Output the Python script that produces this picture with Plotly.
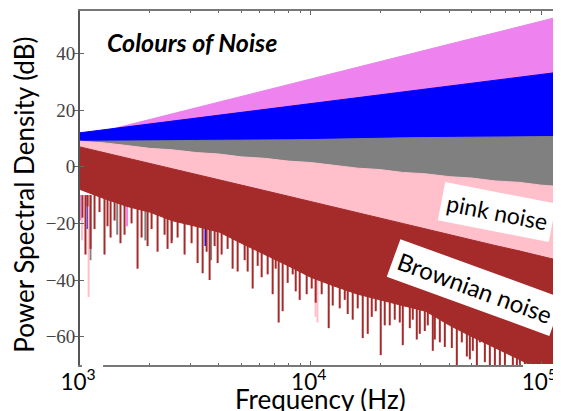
import plotly.graph_objects as go

# ---------------- data ----------------
# frequency sample points (Hz) for the band envelopes
freq = [1000, 1250, 1600, 2000, 2500, 3200, 4000, 5000, 6300, 8000, 10000,
        12500, 16000, 20000, 25000, 31500, 40000, 50000, 63000, 80000, 100000, 122000]

# upper envelopes (dB)
violet_top = [10.5, 12.5, 14.7, 16.6, 18.6, 20.8, 22.8, 24.8, 26.8, 29.0, 31.0,
              33.0, 35.2, 37.1, 39.1, 41.2, 43.3, 45.3, 47.3, 49.5, 51.4, 53.2]
blue_top = [12.0, 13.0, 14.1, 15.1, 16.1, 17.2, 18.2, 19.2, 20.2, 21.3, 22.3,
            23.3, 24.4, 25.4, 26.4, 27.4, 28.5, 29.5, 30.5, 31.6, 32.6, 33.5]
gray_top = [9.0, 9.0, 9.0, 9.2, 9.2, 9.3, 9.3, 9.4, 9.5, 9.5, 9.6,
            9.8, 10.0, 10.0, 10.2, 10.3, 10.4, 10.5, 10.5, 10.6, 10.6, 10.7]
pink_top = [9.0, 8.5, 7.5, 6.5, 6.0, 5.0, 4.5, 3.5, 3.0, 2.0, 1.5,
            0.5, -0.5, -1.0, -2.0, -2.5, -3.5, -4.0, -5.0, -5.5, -6.5, -7.0]
brown_top = [7.0, 5.1, 3.1, 1.2, -0.7, -2.8, -4.6, -6.5, -8.4, -10.4, -12.3,
             -14.2, -16.2, -18.1, -20.0, -21.9, -23.9, -25.8, -27.8, -29.7, -31.6, -33.3]

# lower (dense) envelopes (dB)
violet_low = [7, 8, 9, 10, 11, 12, 13, 14, 15, 16, 17, 18, 19, 20, 21, 22, 23, 24, 25, 26, 27, 28]
blue_low = [6, 6, 6, 6, 6, 6, 6, 6, 6, 6, 6, 7, 7, 7, 7, 7, 7, 7, 7, 7, 7, 7]
gray_low = [-6, -7, -8, -9, -10, -10, -11, -11, -11, -12, -12,
            -12, -12, -12, -12, -12, -12, -12, -12, -12, -12, -12]
pink_low = [-3, -5, -7, -9, -11, -13, -15, -17, -18, -20, -22,
            -24, -26, -28, -30, -32, -34, -36, -38, -40, -42, -43]
brown_low = [-8, -11, -14, -16, -19, -21, -23, -27, -31, -35, -39,
             -42, -45, -47, -49, -51, -56, -60, -64, -68, -72, -76]

# deep downward spikes visible below the dense bands (Hz, dB)
violet_spike_f = [1005, 1600]
violet_spike_db = [-19, -21]
blue_spike_f = [1080, 3500]
blue_spike_db = [-22, -28]
gray_spike_f = [1110, 1450, 1920, 2500, 3700]
gray_spike_db = [-33, -24, -26, -26, -33]
pink_spike_f = [1020, 1090, 10700, 10500]
pink_spike_db = [-26, -46, -55, -53]
brown_spike_f = [1056, 1111, 1277, 1357, 1498, 1776, 1963, 2396, 2649, 3234, 3401,
                 3646, 3950, 4587, 4823, 5603, 6130, 6842, 7263, 7558, 8960, 9608,
                 11970, 13360, 15210, 16810, 17670, 20120, 22010, 24330, 25070, 28830,
                 29710, 33830, 34510, 38140, 42990, 47520, 52520, 54120, 59780, 66070,
                 75200, 80680, 89200, 98400, 108800,
                 1025, 1078, 1156, 1215, 1316, 1412, 1560, 1673, 1849, 2043, 2169,
                 2326, 2495, 2840, 3046, 3538, 3833, 4111, 4364, 5173, 5331, 5891,
                 6508, 7051, 7947, 8355, 8611, 10100, 10510, 11160, 12460, 14050,
                 14470, 15990, 18390, 19140, 20940, 23140, 26890, 27700, 31230, 32180,
                 36280, 40900, 45190, 48960, 50440, 56880, 62860, 69480, 78310, 84800,
                 93720, 103600, 114500]
brown_spike_db = [-31, -29, -31, -25, -27, -36, -28, -29, -25, -34, -37.6,
                  -40, -34, -36, -37, -43, -39, -45, -55, -51, -47, -45,
                  -57, -50, -54, -60.5, -59, -66.5, -56, -55, -63, -61,
                  -59, -65, -61, -63.6, -72, -67, -72, -62, -72, -72,
                  -72, -72, -72, -72, -72,
                  -18, -14, -22, -16, -21, -19, -24, -20, -25, -22, -30,
                  -24, -27, -31, -27, -30, -28, -31, -29, -33, -37, -35,
                  -38, -36, -41, -38, -44, -43, -48, -45, -49, -47,
                  -52, -50, -53, -51, -56, -54, -57, -54, -58, -56,
                  -62, -64, -62, -68, -65, -69, -72, -72, -72, -72,
                  -72, -72, -72]
spike_start = -10

colors = {"violet": "#EE82EE", "blue": "#0000FF", "gray": "#808080",
          "pink": "#FFC0CB", "brown": "#A52A2A"}

# ---------------- figure ----------------
fig = go.Figure()


def band(top, low, color):
    xs = list(freq) + list(reversed(freq))
    ys = list(top) + list(reversed(low))
    fig.add_trace(go.Scatter(x=xs, y=ys, fill="toself", fillcolor=color, mode="lines",
                             line=dict(color=color, width=1), hoverinfo="skip",
                             showlegend=False))


def spikes(fs, dbs, color):
    xs, ys = [], []
    for f, d in zip(fs, dbs):
        xs += [f, f, None]
        ys += [spike_start, d, None]
    fig.add_trace(go.Scatter(x=xs, y=ys, mode="lines", line=dict(color=color, width=2),
                             hoverinfo="skip", showlegend=False))


band(violet_top, violet_low, colors["violet"])
band(blue_top, blue_low, colors["blue"])
band(gray_top, gray_low, colors["gray"])
spikes(violet_spike_f, violet_spike_db, colors["violet"])
spikes(blue_spike_f, blue_spike_db, colors["blue"])
spikes(gray_spike_f, gray_spike_db, colors["gray"])
spikes(pink_spike_f, pink_spike_db, colors["pink"])
spikes(brown_spike_f, brown_spike_db, colors["brown"])
band(pink_top, pink_low, colors["pink"])
band(brown_top, brown_low, colors["brown"])

# helper trace for the inner y ticks
fig.add_trace(go.Scatter(x=[freq[0]], y=[0], yaxis="y2", mode="markers",
                         marker=dict(opacity=0), hoverinfo="skip", showlegend=False))

sans = "Lato"
serif = "Liberation Serif, Times New Roman, DejaVu Serif, serif"
fig.update_layout(
    # the page body adds an 8px offset, so the figure is 8px smaller than the window
    width=553, height=403,
    margin=dict(l=72, r=0, t=3, b=46, pad=0, autoexpand=False),
    paper_bgcolor="white", plot_bgcolor="white",
    xaxis=dict(type="log", range=[3, 5.085], dtick=1, exponentformat="power",
               automargin=False, ticklabeloverflow="allow", ticklabelstandoff=-3,
               ticklabelshift=-2,
               showline=True, linecolor="#777", linewidth=1.5, mirror="ticks",
               ticks="inside", ticklen=4, tickcolor="#666", tickwidth=1,
               minor=dict(ticks="inside", ticklen=2, tickcolor="#666", showgrid=False),
               showgrid=False, zeroline=False,
               tickfont=dict(family=sans, size=18, color="black")),
    yaxis=dict(range=[-70, 55], tickvals=[-60, -40, -20, 0, 20, 40], automargin=False,
               ticklabelstandoff=-5,
               showline=True, linecolor="#555", linewidth=1.7,
               ticks="outside", ticklen=4, tickcolor="#666", tickwidth=1,
               showgrid=False, zeroline=False,
               tickfont=dict(family=serif, size=19, color="#444")),
    yaxis2=dict(range=[-70, 55], overlaying="y", tickvals=[-60, -40, -20, 0, 20, 40],
                ticks="inside", ticklen=4, tickcolor="#666", showticklabels=False,
                showline=False, showgrid=False, zeroline=False, automargin=False),
    shapes=[
        # white label boxes interrupting the bottom spine under 10^3 and 10^5
        dict(type="rect", xref="paper", yref="paper", x0=0.004, x1=0.048,
             y0=-0.0085, y1=0.003, fillcolor="white", line=dict(width=0), layer="above"),
        dict(type="rect", xref="paper", yref="paper", x0=0.921, x1=1.0,
             y0=-0.0085, y1=0.003, fillcolor="white", line=dict(width=0), layer="above"),
    ],
    annotations=[
        dict(text="Colours of Noise", xref="paper", yref="paper", x=0.052, y=0.912,
             xanchor="left", yanchor="middle", showarrow=False,
             font=dict(family=sans, size=25, color="black", weight="bold", style="italic")),
        dict(text="pink noise", xref="paper", yref="paper", x=0.867, y=0.432,
             xanchor="center", yanchor="middle",
             textangle=11, showarrow=False, bgcolor="white", borderpad=5,
             font=dict(family=sans, size=23, color="black")),
        dict(text="Brownian noise", xref="paper", yref="paper", x=0.821, y=0.220,
             xanchor="center", yanchor="middle",
             textangle=20, showarrow=False, bgcolor="white", borderpad=5,
             font=dict(family=sans, size=24, color="black")),
        dict(text="Frequency (Hz)", xref="paper", yref="paper", x=0.501, y=-0.097,
             xanchor="center", yanchor="middle", showarrow=False,
             font=dict(family=sans, size=26, color="black")),
        dict(text="Power Spectral Density (dB)", xref="paper", yref="paper",
             x=-0.1180, y=0.4816, textangle=-90, xanchor="center", yanchor="middle",
             showarrow=False, font=dict(family=sans, size=26, color="black")),
    ],
)

fig.write_html("out.html")
